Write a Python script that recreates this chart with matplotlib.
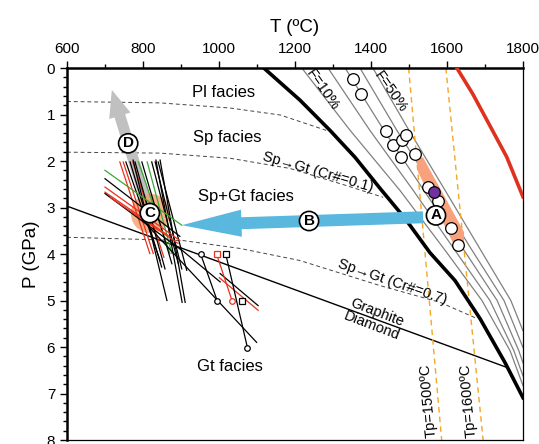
import numpy as np
import matplotlib
matplotlib.use('Agg')
import matplotlib.pyplot as plt
from matplotlib.ticker import MultipleLocator

plt.rcParams['font.family'] = ['Liberation Sans', 'DejaVu Sans']

# mantle solidus (T in C, P in GPa)
solidus_T = [1118, 1213, 1292, 1358, 1424, 1489, 1555, 1621, 1687, 1753, 1800]
solidus_P = [0.0, 0.69, 1.34, 1.92, 2.59, 3.23, 3.97, 4.57, 5.39, 6.34, 7.09]

# melt fraction isopleths F=10% ... F=50%
iso_T = [
    [1218, 1345, 1476, 1595, 1692, 1766, 1800],
    [1287, 1397, 1511, 1621, 1713, 1776, 1800],
    [1332, 1434, 1539, 1645, 1732, 1789, 1800],
    [1371, 1468, 1568, 1666, 1750, 1800],
    [1405, 1500, 1595, 1689, 1768, 1800],
]
iso_P = [
    [0.0, 1.34, 2.63, 3.92, 5.0, 6.08, 6.83],
    [0.0, 1.34, 2.63, 3.92, 5.0, 6.08, 6.62],
    [0.0, 1.34, 2.63, 3.92, 5.0, 6.08, 6.34],
    [0.0, 1.34, 2.63, 3.92, 5.0, 6.01],
    [0.0, 1.34, 2.63, 3.92, 5.0, 5.65],
]

# liquidus (red)
liq_T = [1626, 1668, 1705, 1757, 1800]
liq_P = [0.0, 0.56, 1.12, 1.91, 2.77]

# mantle adiabats
tp1500_T = [1499, 1586]
tp1600_T = [1597, 1695]
tp_P = [0.0, 8.0]

# facies boundaries
pl_T = [600, 845, 1029, 1161, 1282]
pl_P = [0.72, 0.75, 0.86, 1.01, 1.34]
sp01_T = [600, 845, 1029, 1187, 1332, 1432]
sp01_P = [1.81, 1.83, 1.94, 2.16, 2.52, 2.78]
sp07_T = [600, 905, 1055, 1213, 1424, 1582, 1674]
sp07_P = [3.64, 3.71, 3.88, 4.14, 4.68, 5.04, 5.37]
gd_T = [600, 1758]
gd_P = [2.97, 6.44]

# primary melt estimates
melt_T = [1352, 1373, 1439, 1459, 1481, 1493, 1478, 1516, 1551, 1577, 1610, 1630]
melt_P = [0.24, 0.55, 1.35, 1.65, 1.55, 1.43, 1.92, 1.85, 2.56, 2.86, 3.45, 3.81]
avg_T, avg_P = 1566, 2.67

# melting region around A
zone_T = [1519, 1537, 1645, 1645, 1624, 1524]
zone_P = [1.94, 1.92, 3.53, 3.88, 3.90, 2.24]

# xenolith geotherms: (T0, P0, T1, P1, colour)
geotherms = [
    (739, 2.02, 818, 3.99, 'r'), (748, 2.02, 827, 3.99, 'r'),
    (755, 2.02, 845, 4.14, 'k'), (766, 2.02, 849, 4.28, 'k'),
    (773, 2.02, 855, 4.07, 'r'), (779, 2.02, 858, 4.32, 'k'),
    (788, 2.02, 871, 3.99, 'g'), (797, 2.02, 876, 4.21, 'k'),
    (811, 2.02, 876, 3.99, 'g'), (823, 2.02, 893, 4.21, 'k'),
    (832, 2.02, 902, 4.32, 'k'), (840, 2.02, 915, 4.35, 'k'),
    (774, 1.98, 863, 5.00, 'k'), (834, 1.98, 903, 5.04, 'k'),
    (845, 1.98, 911, 5.04, 'k'),
    (700, 2.20, 902, 3.38, 'g'), (700, 2.38, 897, 3.62, 'k'),
    (700, 2.56, 897, 3.71, 'r'), (700, 2.67, 866, 3.60, 'r'),
    (700, 2.70, 902, 3.92, 'k'), (713, 2.78, 892, 3.77, 'r'),
    (800, 3.28, 1099, 5.90, 'k'), (897, 3.88, 1003, 4.60, 'k'),
    (1003, 4.42, 1103, 5.11, 'k'), (1001, 4.51, 1103, 5.21, 'r'),
]
# geotherms with end markers: (T0, P0, T1, P1, colour, marker0, marker1)
marked = [
    (952, 4.01, 996, 5.02, 'k', 'o', 'o'),
    (994, 4.01, 1035, 5.02, 'r', 's', 'o'),
    (1018, 4.01, 1075, 6.02, 'k', 's', 'o'),
]
extra_sq_T, extra_sq_P = [1061], [5.02]

line_colors = {'k': 'black', 'r': '#e8311e', 'g': '#3aa935'}

fig = plt.figure(figsize=(5.39, 4.44), dpi=100)
ax = fig.add_axes([0.1243, 0.009, 0.846, 0.8378])

ax.set_xlim(600, 1800)
ax.set_ylim(8, 0)

dash = (0, (4, 3))
ax.plot(pl_T, pl_P, color='#444444', lw=0.7, ls=dash)
ax.plot(sp01_T, sp01_P, color='#444444', lw=0.7, ls=dash)
ax.plot(sp07_T, sp07_P, color='#444444', lw=0.7, ls=dash)
ax.plot(gd_T, gd_P, color='black', lw=1.0)

for t, p in zip(iso_T, iso_P):
    ax.plot(t, p, color='#808080', lw=0.9)

ax.plot(tp1500_T, tp_P, color='#f5a623', lw=1.0, ls=dash)
ax.plot(tp1600_T, tp_P, color='#f5a623', lw=1.0, ls=dash)

ax.fill(zone_T, zone_P, color='#f7a27c', lw=0, zorder=2)
ax.plot(solidus_T, solidus_P, color='black', lw=2.6, zorder=3)
ax.plot(liq_T, liq_P, color='#e0301e', lw=2.6, zorder=3)

# arrows B and D
ax.annotate('', xy=(902, 3.38), xytext=(1537, 3.21),
            arrowprops=dict(arrowstyle='simple,head_length=4.3,head_width=1.95,tail_width=0.86',
                            mutation_scale=10, color='#5ab8df', lw=0, shrinkA=0, shrinkB=0),
            zorder=4)
ax.annotate('', xy=(718, 0.47), xytext=(818, 3.12),
            arrowprops=dict(arrowstyle='simple,head_length=1.95,head_width=1.6,tail_width=0.8',
                            mutation_scale=10, color='#c0c0c0', lw=0, shrinkA=0, shrinkB=0),
            zorder=2)
ax.scatter([818], [3.12], s=800, color='#f4a06e', alpha=0.8, lw=0, zorder=2.5)

for t0, p0, t1, p1, c in geotherms:
    ax.plot([t0, t1], [p0, p1], color=line_colors[c], lw=0.9, zorder=3)
for t0, p0, t1, p1, c, m0, m1 in marked:
    ax.plot([t0, t1], [p0, p1], color=line_colors[c], lw=0.9, zorder=3)
    ax.plot(t0, p0, marker=m0, ms=4, mfc='white', mec=line_colors[c], mew=0.9, zorder=4)
    ax.plot(t1, p1, marker=m1, ms=4, mfc='white', mec=line_colors[c], mew=0.9, zorder=4)
ax.plot(extra_sq_T, extra_sq_P, 's', ms=4, mfc='white', mec='black', mew=0.9, zorder=4)

ax.scatter(melt_T, melt_P, s=70, facecolor='white', edgecolor='black', lw=0.9, zorder=5)
ax.scatter([avg_T], [avg_P], s=70, facecolor='#7030a0', edgecolor='black', lw=0.9, zorder=6)

# point labels
for lab, t, p in [('A', 1571, 3.17), ('B', 1237, 3.29), ('C', 818, 3.12), ('D', 761, 1.62)]:
    ax.text(t, p, lab, ha='center', va='center', fontsize=11, fontweight='bold', zorder=7,
            bbox=dict(boxstyle='circle,pad=0.17', fc='white', ec='black', lw=1.2))

ax.text(1013, 0.52, 'Pl facies', ha='center', va='center', fontsize=12)
ax.text(1021, 1.49, 'Sp facies', ha='center', va='center', fontsize=12)
ax.text(1071, 2.76, 'Sp+Gt facies', ha='center', va='center', fontsize=12)
ax.text(1029, 6.42, 'Gt facies', ha='center', va='center', fontsize=12)
ax.text(1271, 0.47, 'F=10%', ha='center', va='center', fontsize=10.5, rotation=-55,
        rotation_mode='anchor')
ax.text(1451, 0.52, 'F=50%', ha='center', va='center', fontsize=10.5, rotation=-55,
        rotation_mode='anchor')
ax.text(1260, 2.24, 'Sp→Gt (Cr#=0.1)', ha='center', va='center', fontsize=10.5,
        rotation=-16, rotation_mode='anchor')
ax.text(1457, 4.61, 'Sp→Gt (Cr#=0.7)', ha='center', va='center', fontsize=10.5,
        rotation=-19, rotation_mode='anchor')
ax.text(1415, 5.25, 'Graphite', ha='center', va='center', fontsize=10.5,
        rotation=-21, rotation_mode='anchor')
ax.text(1402, 5.54, 'Diamond', ha='center', va='center', fontsize=10.5,
        rotation=-21, rotation_mode='anchor')
ax.text(1551, 7.15, 'Tp=1500ºC', ha='center', va='center', fontsize=10.5,
        rotation=95, rotation_mode='anchor')
ax.text(1656, 7.15, 'Tp=1600ºC', ha='center', va='center', fontsize=10.5,
        rotation=95, rotation_mode='anchor')

# axes styling
ax.xaxis.tick_top()
ax.xaxis.set_label_position('top')
ax.set_xlabel('T (ºC)', fontsize=13.5, labelpad=7)
ax.set_ylabel('P (GPa)', fontsize=13.5, labelpad=5)
ax.xaxis.set_major_locator(MultipleLocator(200))
ax.xaxis.set_minor_locator(MultipleLocator(100))
ax.yaxis.set_major_locator(MultipleLocator(1))
ax.yaxis.set_minor_locator(MultipleLocator(0.2))
ax.tick_params(which='both', direction='out', width=1.0, labelsize=11)
ax.tick_params(which='major', length=5)
ax.tick_params(which='minor', length=3)
ax.spines['top'].set_linewidth(1.8)
ax.spines['left'].set_linewidth(1.8)
ax.spines['right'].set_linewidth(0.9)
ax.spines['bottom'].set_linewidth(0.9)

fig.savefig('out.png', dpi=100)
